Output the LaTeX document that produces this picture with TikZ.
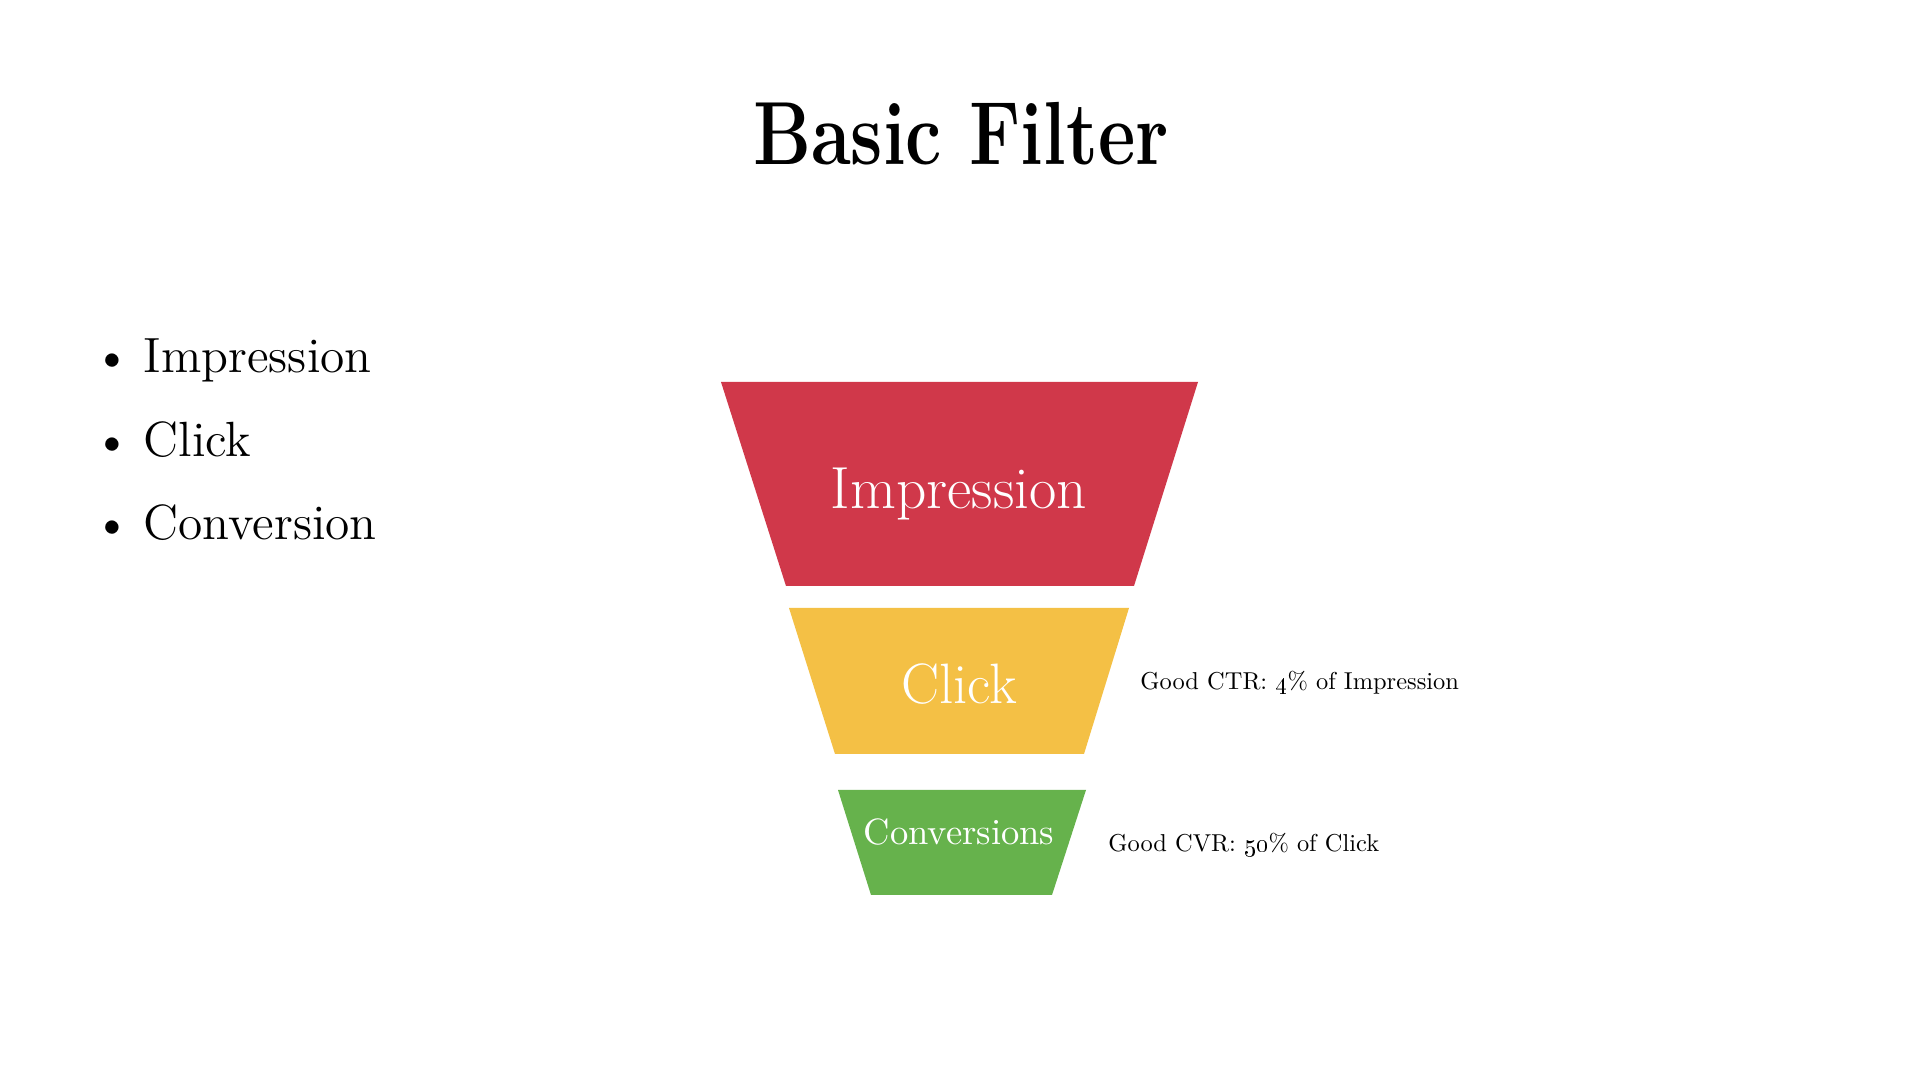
\documentclass[tikz,border=0pt]{standalone}
\usepackage{tikz}
\usetikzlibrary{positioning}

\definecolor{impred}{RGB}{208,56,74}
\definecolor{clkyellow}{RGB}{244,192,69}
\definecolor{convgreen}{RGB}{102,178,76}

\tikzset{
    stagetext/.style={text=white, anchor=base, inner sep=0pt},
    notetext/.style={anchor=base west, inner sep=0pt, scale=0.695, font=\fontsize{10}{12}\selectfont},
    listtext/.style={anchor=base west, inner sep=0pt, font=\fontsize{14.07}{17}\selectfont}
}

\begin{document}
\begin{tikzpicture}[x=0.01cm, y=-0.01cm]
            \useasboundingbox (0,0) rectangle (1920,1080);
            \fill[white] (0,0) rectangle (1920,1080);

            % title
            \node[anchor=base, inner sep=0pt] (title) at (961,165)
                {\scalebox{0.81}[1]{\fontsize{25.5}{30}\selectfont\bfseries Basic Filter}};

            % list
            \foreach \name/\word [count=\i] in {imp/Impression, clk/Click, conv/Conversion}{
                \node[listtext] (\name) at (143,{373+(\i-1)*83.5}) {\word};
                \node[listtext, anchor=base] (\name dot) at (112,{373+(\i-1)*83.5}) {\textbullet};
            }

            % funnel corners
            \coordinate (A1) at (721,382);  \coordinate (A2) at (1198,382);
            \coordinate (A3) at (1134,586); \coordinate (A4) at (786,586);
            \coordinate (B1) at (789,608);  \coordinate (B2) at (1129,608);
            \coordinate (B3) at (1084,754); \coordinate (B4) at (835,754);
            \coordinate (C1) at (838,790);  \coordinate (C2) at (1086,790);
            \coordinate (C3) at (1052,895); \coordinate (C4) at (871,895);

            % funnel
            \fill[impred] (A1) -- (A2) -- (A3) -- (A4) -- cycle;
            \fill[clkyellow] (B1) -- (B2) -- (B3) -- (B4) -- cycle;
            \fill[convgreen] (C1) -- (C2) -- (C3) -- (C4) -- cycle;

            \node[stagetext, font=\fontsize{16.9}{20}\selectfont] (impstage) at (959,509) {Impression};
            \node[stagetext, font=\fontsize{16.2}{20}\selectfont] (clkstage) at (959,704) {Click};
            \node[stagetext, font=\fontsize{10.4}{12}\selectfont] (convstage) at (959,845) {Conversions};

            % rates
            \node[notetext] (ctr) at (1140,690) {Good CTR: \oldstylenums{4}\% of Impression};
            \node[notetext] (cvr) at (1108,852) {Good CVR: \oldstylenums{50}\% of Click};
        \end{tikzpicture}
\end{document}
